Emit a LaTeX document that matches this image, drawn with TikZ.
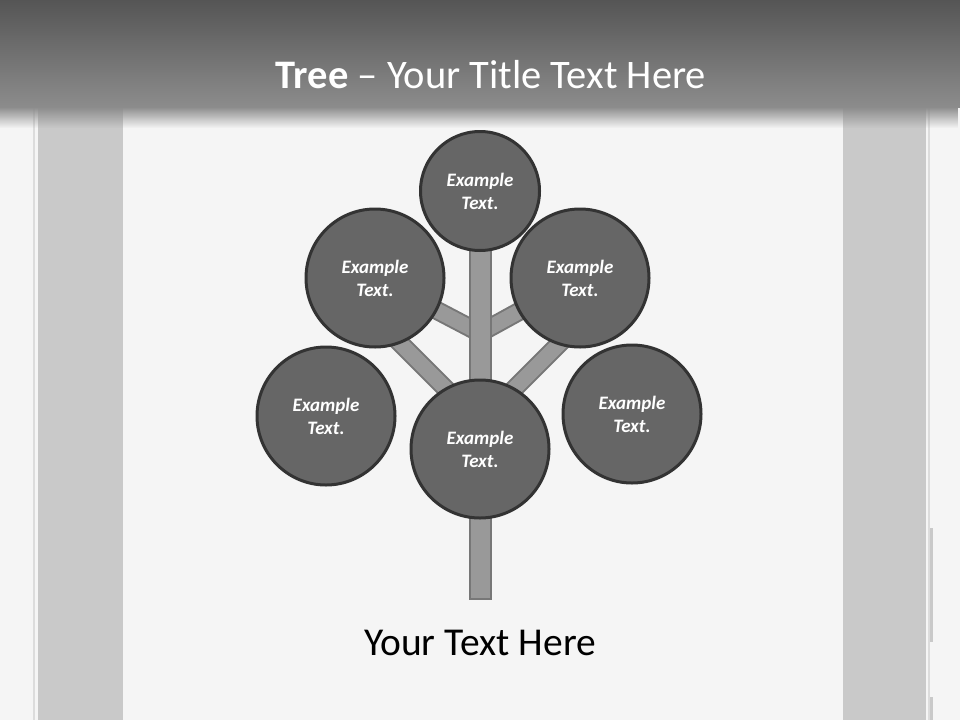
\documentclass[tikz,border=0pt]{standalone}
\usepackage{fontspec}
\setmainfont{Carlito}
\usetikzlibrary{calc,backgrounds,fadings}
\definecolor{pagebg}{HTML}{F5F5F5}
\definecolor{hdrtop}{HTML}{555555}
\definecolor{hdrbot}{HTML}{8C8C8C}
\definecolor{stripgray}{HTML}{C9C9C9}
\definecolor{edgegray}{HTML}{DCDCDC}
\definecolor{leaffill}{HTML}{666666}
\definecolor{leafline}{HTML}{333333}
\definecolor{barfill}{HTML}{999999}
\definecolor{barline}{HTML}{777777}

\begin{document}
\begin{tikzpicture}[x=1pt, y=-1pt,
     leaf/.style = {draw=leafline, fill=leaffill, circle, line width=3pt, inner sep=0pt,
      minimum size=138pt, text=white, align=center,
      font=\fontsize{19}{23}\selectfont\bfseries\itshape},
     smallleaf/.style = {leaf, minimum size=119pt},
     branch/.style = {draw=barline, line width=2pt, double=barfill, double distance=15pt},
     trunkline/.style = {draw=barline, line width=23pt},
     trunkfill/.style = {draw=barfill, line width=19pt, shorten >=2pt},
     title/.style = {text=white, font=\fontsize{40.5}{46}\selectfont},
     caption/.style = {text=black, font=\fontsize{39.5}{46}\selectfont}
    ]
    \useasboundingbox (0,0) rectangle (960,720);

    % page behind everything
    \begin{scope}[on background layer]
    \fill[pagebg] (0,0) rectangle (960,720);
    \fill[stripgray] (38,108) rectangle (123,720);
    \fill[stripgray] (843,108) rectangle (926,720);
    \fill[edgegray] (33,108) rectangle (35,720);
    \fill[edgegray] (928,108) rectangle (930,720);
    \fill[stripgray] (930,528) rectangle (933,642);
    \fill[stripgray] (930,697) rectangle (933,720);
    \shade[top color=hdrtop, bottom color=hdrbot] (0,0) rectangle (960,107);
    \fill[hdrbot, path fading=south] (0,107) rectangle (960,128);
    \end{scope}

    \node [title] (head) at (491,75) {{\bfseries Tree} -- Your Title Text Here};

    \node [leaf] (mid) at (480,449) {Example\\Text.};
    \node [smallleaf, above of=mid, node distance=258pt] (top) {Example\\Text.};
    \node [leaf] (upleft) at ($(mid)+(-105,-171)$) {Example\\Text.};
    \node [leaf] (upright) at ($(mid)+(100,-171)$) {Example\\Text.};
    \node [leaf] (lowleft) at ($(mid)+(-154,-33)$) {Example\\Text.};
    \node [leaf] (lowright) at ($(mid)+(152,-35)$) {Example\\Text.};

    \node [caption] (foot) at (480,643) {Your Text Here};

    \coordinate (forkhi) at ($(mid)+(0,-116)$);
    \coordinate (forklo) at ($(mid)+(0,-26)$);
    \coordinate (root) at ($(mid)+(0,151)$);
    \coordinate (tipleft) at ($(forklo)+(225:128)$);
    \coordinate (tipright) at ($(forklo)+(-45:128)$);

    % trunk and branches under the leaves
    \begin{scope}[on background layer]
    \draw[branch] (forkhi) -- (upleft.center);
    \draw[branch] (forkhi) -- (upright.center);
    \draw[branch] (forklo) -- (tipleft);
    \draw[branch] (forklo) -- (tipright);
    \draw[trunkline] (top.center) -- (root);
    \draw[trunkfill] (top.center) -- (root);
    \end{scope}

\end{tikzpicture}
\end{document}
